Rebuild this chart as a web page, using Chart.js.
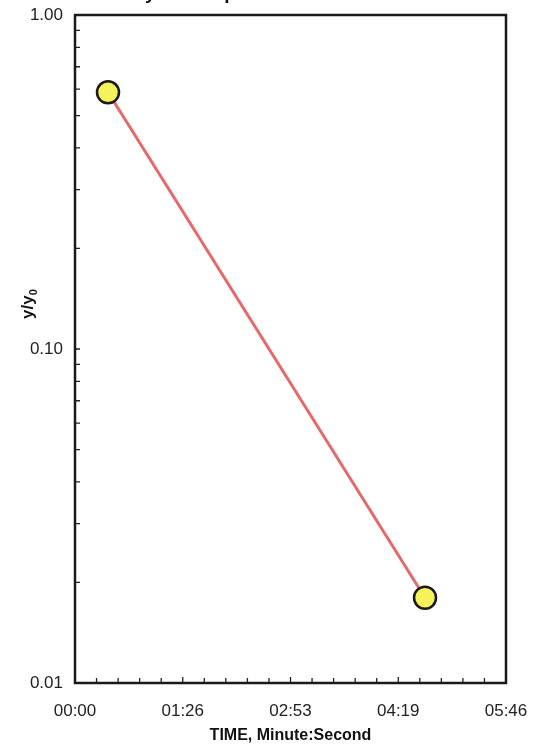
<!DOCTYPE html>
<html>
<head>
<meta charset="utf-8">
<script src="https://cdn.jsdelivr.net/npm/chart.js@4.4.1/dist/chart.umd.min.js"></script>
<style>
  html, body { margin: 0; padding: 0; background: #fff; }
  #wrap { width: 548px; height: 749px; }
</style>
</head>
<body>
<div id="wrap"><canvas id="decayChart"></canvas></div>
<script>
// time in seconds, ratio y/y0
const sampleTimes = [26.5, 281];
const sampleRatios = [0.587, 0.018];

const xTickValues = [0, 86.5, 173, 259.5, 346];
const xTickLabels = ["00:00", "01:26", "02:53", "04:19", "05:46"];
const yTickValues = [0.01, 0.1, 1];
const yTickLabels = ["0.01", "0.10", "1.00"];

const titleText = "Recovery of Samples";

const fontFam = "Arial, 'Liberation Sans', sans-serif";

// inward tick marks, plot frame, y title and the clipped title
const framePlugin = {
    id: "frame",
    afterDraw(chart) {
        let ctx = chart.ctx;
        let a = chart.chartArea;
        let xs = chart.scales.x;
        let ys = chart.scales.y;
        ctx.save();
        ctx.strokeStyle = "#222";
        ctx.lineWidth = 1.3;
        ctx.beginPath();
        // x ticks: 5 steps between labelled values
        for (let i = 0; i < xTickValues.length - 1; i++) {
            let step = (xTickValues[i + 1] - xTickValues[i]) / 5;
            for (let k = 0; k <= 5; k++) {
                let px = xs.getPixelForValue(xTickValues[i] + k * step);
                let len = (k === 0 || k === 5) ? 6 : 5;
                ctx.moveTo(px, a.bottom);
                ctx.lineTo(px, a.bottom - len);
            }
        }
        // y ticks: 1..9 in each decade
        for (let d = 0.01; d < 1; d *= 10) {
            for (let m = 1; m <= 10; m++) {
                let py = ys.getPixelForValue(d * m);
                ctx.moveTo(a.left, py);
                ctx.lineTo(a.left + 5, py);
            }
        }
        ctx.stroke();
        ctx.lineWidth = 2.5;
        ctx.strokeStyle = "#1a1a1a";
        ctx.strokeRect(a.left, a.top, a.right - a.left, a.bottom - a.top);

        ctx.fillStyle = "#111";
        ctx.font = "bold 19px " + fontFam;
        ctx.textAlign = "left";
        ctx.textBaseline = "alphabetic";
        let before = ctx.measureText("Recover").width;
        ctx.fillText(titleText, 150 - before - 5, -1);

        // y axis title with subscript, sits above the 0.10 label
        ctx.translate(33, 304);
        ctx.rotate(-Math.PI / 2);
        ctx.font = "bold 17px " + fontFam;
        let main = "y/y";
        let w1 = ctx.measureText(main).width;
        ctx.font = "bold 11px " + fontFam;
        let w2 = ctx.measureText("0").width;
        let x0 = -(w1 + w2) / 2;
        ctx.font = "bold 17px " + fontFam;
        ctx.fillText(main, x0, 0);
        ctx.font = "bold 11px " + fontFam;
        ctx.fillText("0", x0 + w1, 4);
        ctx.restore();
    }
};

let ctx = document.getElementById("decayChart").getContext("2d");

new Chart(ctx, {
    type: "line",
    data: {
        datasets: [{
            data: sampleTimes.map((t, i) => ({ x: t, y: sampleRatios[i] })),
            borderColor: "#e8686a",
            borderWidth: 3,
            pointBackgroundColor: "#f6f25a",
            pointBorderColor: "#1a1a1a",
            pointBorderWidth: 2.5,
            pointRadius: 11,
            tension: 0
        }]
    },
    options: {
        responsive: true,
        maintainAspectRatio: false,
        animation: false,
        layout: { padding: { top: 15, right: 42, left: 0, bottom: 0 } },
        plugins: {
            legend: { display: false },
            tooltip: { enabled: false }
        },
        scales: {
            x: {
                type: "linear",
                min: 0,
                max: 346,
                afterBuildTicks: scale => {
                    scale.ticks = xTickValues.map(v => ({ value: v }));
                },
                afterFit: scale => {
                    scale.height = 66;
                    scale.paddingLeft = 0;
                    scale.paddingRight = 0;
                },
                ticks: {
                    callback: (v, i) => xTickLabels[i],
                    color: "#222",
                    font: { family: fontFam, size: 17 },
                    padding: 18,
                    maxRotation: 0,
                    autoSkip: false
                },
                grid: { display: false, drawTicks: false },
                border: { display: false },
                title: {
                    display: true,
                    text: "TIME, Minute:Second",
                    color: "#111",
                    font: { family: fontFam, size: 16, weight: "bold" },
                    padding: { top: 4 }
                }
            },
            y: {
                type: "logarithmic",
                min: 0.01,
                max: 1,
                afterBuildTicks: scale => {
                    scale.ticks = yTickValues.map(v => ({ value: v }));
                },
                afterFit: scale => {
                    scale.width = 75;
                    scale.paddingTop = 0;
                    scale.paddingBottom = 0;
                },
                ticks: {
                    callback: (v, i) => yTickLabels[i],
                    color: "#222",
                    font: { family: fontFam, size: 17 },
                    padding: 12,
                    autoSkip: false
                },
                grid: { display: false, drawTicks: false },
                border: { display: false },
                title: { display: false }
            }
        }
    },
    plugins: [framePlugin]
});
</script>
</body>
</html>
